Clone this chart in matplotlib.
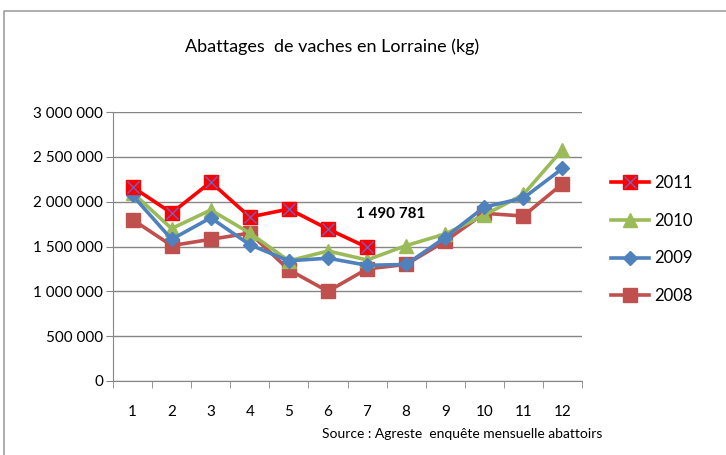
import matplotlib
matplotlib.use("Agg")
import matplotlib.pyplot as plt
from matplotlib.lines import Line2D

plt.rcParams['font.family'] = ['Lato', 'DejaVu Sans']

mois = [1, 2, 3, 4, 5, 6, 7, 8, 9, 10, 11, 12]
v2011 = [2163000, 1874000, 2219000, 1829000, 1918000, 1695000, 1490781]
v2010 = [2100000, 1700000, 1907000, 1650000, 1340000, 1450000, 1350000, 1510000, 1640000, 1850000, 2080000, 2580000]
v2009 = [2070000, 1580000, 1820000, 1520000, 1340000, 1370000, 1290000, 1300000, 1600000, 1940000, 2040000, 2370000]
v2008 = [1800000, 1510000, 1580000, 1650000, 1240000, 1000000, 1250000, 1300000, 1560000, 1870000, 1840000, 2200000]
yticks = [0, 500000, 1000000, 1500000, 2000000, 2500000, 3000000]

fig = plt.figure(figsize=(7.26, 4.55), dpi=100)
ax = fig.add_axes([113/726, 1-381/455, (582-113)/726, (381-112)/455])

# cadre du graphique
fig.add_artist(Line2D([4/726, 4/726, 1.0], [0.0, 1-11/455, 1-11/455],
                      transform=fig.transFigure, color='#a0a0a0', lw=1.2))

ax.plot(mois, v2008, color='#C0504D', lw=2.6, marker='s', ms=9.5, label='2008', zorder=3)
ax.plot(mois, v2009, color='#4F81BD', lw=2.6, marker='D', ms=7.5, label='2009', zorder=4)
ax.plot(mois, v2010, color='#9BBB59', lw=2.6, marker='^', ms=9.5, label='2010', zorder=3)
ax.plot(mois[:7], v2011, color='#FF0000', lw=2.6, marker='s', ms=9.5, zorder=5)
ax.plot(mois[:7], v2011, color='none', lw=0, marker='x', ms=8.5, mec='#7060C0', mew=1, zorder=6)

ax.annotate('1 490 781', (7, v2011[6]), xytext=(17, 24), textcoords='offset points',
            fontsize=11, fontweight='bold', ha='center', va='center')

ax.set_xlim(0.5, 12.5)
ax.set_ylim(0, 3000000)
ax.set_yticks(yticks)
ax.set_yticklabels(['{:,}'.format(v).replace(',', ' ') for v in yticks])
ax.set_xticks(mois)
ax.set_xticklabels([str(m) for m in mois])
ax.set_xticks([m + 0.5 for m in range(0, 13)], minor=True)
ax.tick_params(axis='x', which='major', length=0, pad=17, labelsize=11)
ax.tick_params(axis='x', which='minor', length=5, color='#868686')
ax.tick_params(axis='y', length=5, color='#868686', labelsize=11, pad=2)
ax.grid(axis='y', color='#868686', lw=1)
ax.set_axisbelow(True)
for s in ['top', 'right']:
    ax.spines[s].set_visible(False)
for s in ['left', 'bottom']:
    ax.spines[s].set_color('#868686')

fig.text(332/726, 1-47/455, 'Abattages  de vaches en Lorraine (kg)', ha='center', va='center', fontsize=13)
fig.text(322/726, 1-434/455, 'Source : Agreste  enquête mensuelle abattoirs', ha='left', va='center', fontsize=10)

h2011 = Line2D([], [], color='#FF0000', lw=2.6, marker='s', ms=9.5)
h2011b = Line2D([], [], color='none', marker='x', ms=8.5, mec='#7060C0', mew=1)
h2010 = Line2D([], [], color='#9BBB59', lw=2.6, marker='^', ms=9.5)
h2009 = Line2D([], [], color='#4F81BD', lw=2.6, marker='D', ms=7.5)
h2008 = Line2D([], [], color='#C0504D', lw=2.6, marker='s', ms=9.5)
fig.legend([(h2011, h2011b), h2010, h2009, h2008], ['2011', '2010', '2009', '2008'],
           loc='upper left', bbox_to_anchor=(596/726, 1-160/455), frameon=False,
           fontsize=12, labelspacing=1.3, handlelength=2.3, handletextpad=0.3)

fig.savefig('out.png', dpi=100)
